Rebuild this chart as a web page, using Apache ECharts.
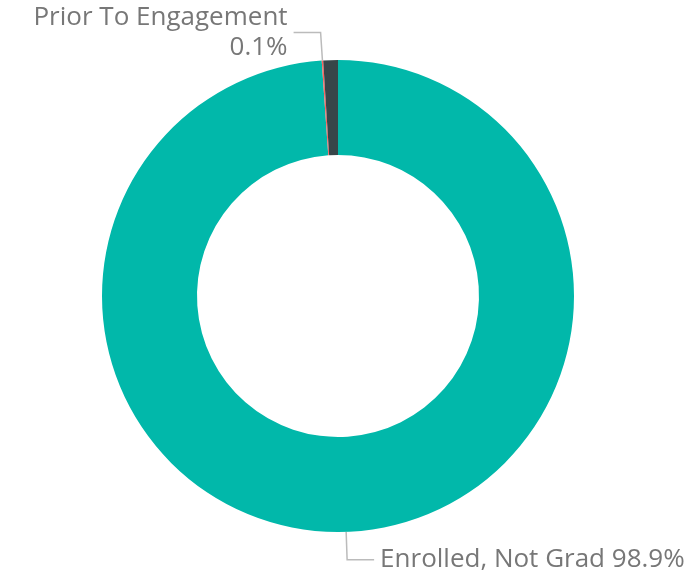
<!DOCTYPE html>
<html>
<head>
<meta charset="utf-8">
<script src="https://cdn.jsdelivr.net/npm/echarts@6/dist/echarts.min.js"></script>
<style>
  html, body { margin: 0; padding: 0; background: #fff; }
  #chart { width: 695px; height: 580px; }
</style>
</head>
<body>
<div id="chart"></div>
<script>
// 分类与数值（顺时针，从12点方向开始）
const categories = ['Enrolled, Not Grad', 'Prior To Engagement', 'Other'];
const values = [98.9, 0.1, 1.0];
const colors = ['#01B8AA', '#FD625E', '#374649'];
// 哪些扇区显示标签
const showLabel = [true, true, false];
const labelFormats = ['{b} {d}%', '{b}\n{d}%', ''];

const chart = echarts.init(document.getElementById('chart'));

const seriesData = categories.map((name, i) => ({
  name: name,
  value: values[i],
  itemStyle: { color: colors[i] },
  label: { show: showLabel[i], formatter: labelFormats[i] },
  labelLine: { show: showLabel[i] }
}));

chart.setOption({
  animation: false,
  series: [
    {
      type: 'pie',
      center: [338, 296],
      radius: [141, 236],
      startAngle: 90,
      clockwise: true,
      avoidLabelOverlap: false,
      percentPrecision: 1,
      itemStyle: { borderWidth: 0 },
      label: {
        position: 'outside',
        color: '#777777',
        fontFamily: 'Open Sans',
        fontSize: 26,
        lineHeight: 30,
        distanceToLabelLine: 6
      },
      labelLine: {
        length: 28,
        length2: 27,
        smooth: false,
        lineStyle: { color: '#bbbbbb', width: 1.5 }
      },
      emphasis: { disabled: true },
      data: seriesData
    }
  ]
});
</script>
</body>
</html>
